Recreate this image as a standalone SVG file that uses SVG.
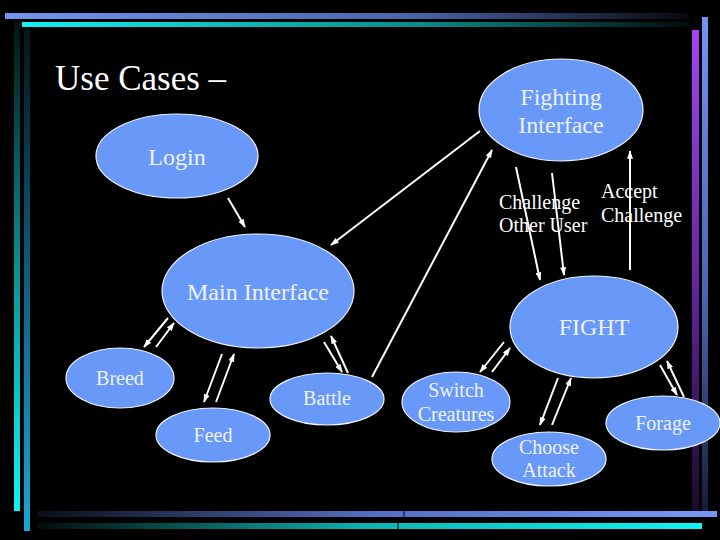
<svg xmlns="http://www.w3.org/2000/svg" width="720" height="540" viewBox="0 0 720 540">
<defs>
<linearGradient id="gTopBlue" x1="0" y1="0" x2="1" y2="0"><stop offset="0" stop-color="#7494f4"/><stop offset="0.6" stop-color="#4a64a8"/><stop offset="1" stop-color="#08080e"/></linearGradient>
<linearGradient id="gTopCyan" x1="0" y1="0" x2="1" y2="0"><stop offset="0" stop-color="#12f2f2"/><stop offset="0.6" stop-color="#0a8a8a"/><stop offset="1" stop-color="#040c0c"/></linearGradient>
<linearGradient id="gLeftCyan" x1="0" y1="0" x2="0" y2="1"><stop offset="0" stop-color="#031414"/><stop offset="0.5" stop-color="#0a9090"/><stop offset="1" stop-color="#12f4f4"/></linearGradient>
<linearGradient id="gLeftTeal" x1="0" y1="0" x2="0" y2="1"><stop offset="0" stop-color="#06141c"/><stop offset="0.5" stop-color="#0e5e80"/><stop offset="1" stop-color="#1aa6d6"/></linearGradient>
<linearGradient id="gRightBlue" x1="0" y1="0" x2="0" y2="1"><stop offset="0" stop-color="#7494f4"/><stop offset="0.6" stop-color="#4660a8"/><stop offset="1" stop-color="#141a34"/></linearGradient>
<linearGradient id="gRightPurple" x1="0" y1="0" x2="0" y2="1"><stop offset="0" stop-color="#a444f4"/><stop offset="0.6" stop-color="#5a2090"/><stop offset="1" stop-color="#180a28"/></linearGradient>
<linearGradient id="gBotBlue" x1="0" y1="0" x2="1" y2="0"><stop offset="0" stop-color="#0a0e18"/><stop offset="0.5" stop-color="#5470c4"/><stop offset="1" stop-color="#7898f8"/></linearGradient>
<linearGradient id="gBotCyan" x1="0" y1="0" x2="1" y2="0"><stop offset="0" stop-color="#030c0c"/><stop offset="0.5" stop-color="#0eb4b4"/><stop offset="1" stop-color="#12f4f4"/></linearGradient>
<marker id="ah" viewBox="0 0 10 7" refX="9" refY="3.5" markerWidth="9" markerHeight="6" markerUnits="userSpaceOnUse" orient="auto"><path d="M0,0 L10,3.5 L0,7 z" fill="#ffffff"/></marker>
</defs>
<style>
.node ellipse{fill:#6898f8;stroke:#eef2ff;stroke-width:1.2}
text{font-family:"Liberation Serif","Times New Roman","DejaVu Serif",serif}
.lbl{fill:#eef2ff;text-anchor:middle}
.big{font-size:24px}
.sm{font-size:20px}
.free{fill:#ffffff;font-size:20px}
.title{fill:#ffffff;font-size:35px}
#connectors line{stroke:#ffffff;stroke-width:2;marker-end:url(#ah)}
</style>
<rect width="720" height="540" fill="#000000"/>
<g id="frame">
<rect x="14" y="22" width="6" height="489" fill="url(#gLeftCyan)"/>
<rect x="24" y="29" width="6" height="502" fill="url(#gLeftTeal)"/>
<rect x="5" y="13" width="684" height="6" fill="url(#gTopBlue)"/>
<rect x="22" y="22" width="667" height="5" fill="url(#gTopCyan)"/>
<rect x="702" y="17" width="6" height="500" fill="url(#gRightBlue)"/>
<rect x="692" y="30" width="7" height="484" fill="url(#gRightPurple)"/>
<rect x="37" y="511" width="680" height="6" fill="url(#gBotBlue)"/>
<rect x="37" y="523" width="665" height="6" fill="url(#gBotCyan)"/>
<line x1="404" y1="511" x2="404" y2="517" stroke="#000" stroke-width="1"/>
<line x1="398" y1="523" x2="398" y2="529" stroke="#000" stroke-width="1"/>
</g>
<text class="title" x="55" y="90">Use Cases –</text>
<g id="connectors">
<line x1="228" y1="198" x2="245" y2="227"/>
<line x1="480" y1="131" x2="331" y2="245"/>
<line x1="372" y1="377" x2="492" y2="150"/>
<line x1="516" y1="167" x2="540" y2="280"/>
<line x1="552" y1="173" x2="564" y2="275"/>
<line x1="630" y1="270" x2="630" y2="151"/>
<line x1="168" y1="318" x2="144" y2="347"/>
<line x1="156" y1="347" x2="174" y2="323"/>
<line x1="222" y1="354" x2="204" y2="402"/>
<line x1="216" y1="402" x2="234" y2="354"/>
<line x1="324" y1="342" x2="342" y2="372"/>
<line x1="348" y1="373" x2="331" y2="336"/>
<line x1="504" y1="342" x2="480" y2="372"/>
<line x1="492" y1="372" x2="510" y2="348"/>
<line x1="558" y1="378" x2="540" y2="425"/>
<line x1="552" y1="425" x2="571" y2="378"/>
<line x1="660" y1="365" x2="677" y2="395"/>
<line x1="684" y1="397" x2="667" y2="361"/>
</g>
<g id="login" class="node"><ellipse cx="177" cy="156" rx="81" ry="42"/><text class="lbl big" x="177" y="165">Login</text></g>
<g id="fighting-interface" class="node"><ellipse cx="561" cy="110" rx="82" ry="51"/><text class="lbl big" x="561" y="105">Fighting</text><text class="lbl big" x="561" y="133">Interface</text></g>
<g id="main-interface" class="node"><ellipse cx="258" cy="291" rx="96" ry="57"/><text class="lbl big" x="258" y="300">Main Interface</text></g>
<g id="fight" class="node"><ellipse cx="594" cy="327" rx="84" ry="51"/><text class="lbl big" x="594" y="335">FIGHT</text></g>
<g id="breed" class="node"><ellipse cx="120" cy="378" rx="54" ry="30"/><text class="lbl sm" x="120" y="385">Breed</text></g>
<g id="feed" class="node"><ellipse cx="213" cy="435" rx="57" ry="27"/><text class="lbl sm" x="213" y="442">Feed</text></g>
<g id="battle" class="node"><ellipse cx="327" cy="399" rx="57" ry="26"/><text class="lbl sm" x="327" y="405">Battle</text></g>
<g id="switch-creatures" class="node"><ellipse cx="456" cy="402" rx="54" ry="30"/><text class="lbl sm" x="456" y="397">Switch</text><text class="lbl sm" x="456" y="421">Creatures</text></g>
<g id="choose-attack" class="node"><ellipse cx="549" cy="459" rx="57" ry="27"/><text class="lbl sm" x="549" y="454">Choose</text><text class="lbl sm" x="549" y="477">Attack</text></g>
<g id="forage" class="node"><ellipse cx="663" cy="423" rx="57" ry="27"/><text class="lbl sm" x="663" y="430">Forage</text></g>
<g id="labels">
<text class="free" x="499" y="209">Challenge</text>
<text class="free" x="499" y="232">Other User</text>
<text class="free" x="601" y="198">Accept</text>
<text class="free" x="601" y="222">Challenge</text>
</g>
</svg>
